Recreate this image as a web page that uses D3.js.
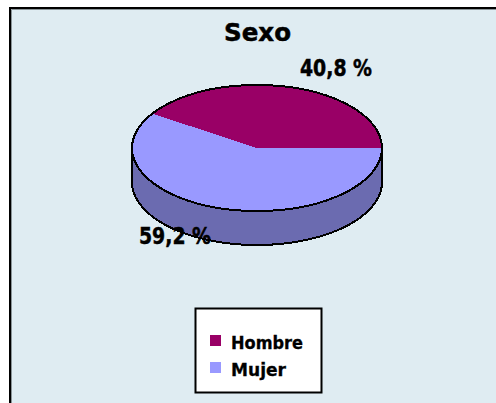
<!DOCTYPE html>
<html>
<head>
<meta charset="utf-8">
<script src="https://cdn.jsdelivr.net/npm/d3@7"></script>
<style>
	html, body { margin: 0; padding: 0; background: #fff; overflow: hidden; }
	svg { display: block; }
	text { font-family: "DejaVu Sans", sans-serif; font-weight: bold; fill: #000; stroke: #000; stroke-width: 0.5px; }
</style>
</head>
<body>
<div id="container"></div>
<script>
const categories = ["Hombre", "Mujer"];
const values = [40.8, 59.2];
const valueLabels = ["40,8 %", "59,2 %"];
const colors = ["#990066", "#9999ff"];
const sideColors = ["#660044", "#6b6bb0"];
const chartTitle = "Sexo";

const width = 496;
const height = 403;
const cx = 257;
const cy = 148;
const rx = 125;
const ry = 63;
const depth = 34;

const svg = d3.select("#container")
	.append("svg")
	.attr("width", width)
	.attr("height", height);

// panel with the dark frame on the top and left only
svg.append("rect")
	.attr("x", 10).attr("y", 8)
	.attr("width", width - 10).attr("height", height - 8)
	.attr("fill", "#dfecf2");
svg.append("path")
	.attr("d", d3.line()([[11.5, height], [11.5, 9.5], [width, 9.5]]))
	.attr("fill", "none")
	.attr("stroke", "#8a9498")
	.attr("stroke-width", 1);
svg.append("path")
	.attr("d", d3.line()([[10, height], [10, 8], [width, 8]]))
	.attr("fill", "none")
	.attr("stroke", "#000")
	.attr("stroke-width", 2);

svg.append("text")
	.attr("x", 224).attr("y", 41)
	.attr("font-size", 25)
	.attr("textLength", 67)
	.attr("lengthAdjust", "spacingAndGlyphs")
	.text(chartTitle);

// d3 angles, first slice ends at the right hand side of the ellipse
const total = d3.sum(values);
const start = Math.PI / 2 - (values[0] / total) * 2 * Math.PI;
const pie = d3.pie().sort(null).startAngle(start).endAngle(start + 2 * Math.PI);
const slices = pie(values);

const px = (a) => cx + rx * Math.sin(a);
const py = (a) => cy - ry * Math.cos(a);

// wall of the disc, only the front half (d3 angle 90 to 270 deg) can be seen
const chart = svg.append("g").attr("shape-rendering", "crispEdges");

slices.forEach((s, i) => {
	const a0 = Math.max(s.startAngle, Math.PI / 2);
	const a1 = Math.min(s.endAngle, 1.5 * Math.PI);
	if (a1 <= a0) return;
	const top = d3.range(a0, a1, 0.02).concat([a1]);
	const pts = top.map((a) => [px(a), py(a)])
		.concat(top.slice().reverse().map((a) => [px(a), py(a) + depth]));
	chart.append("path")
		.attr("d", d3.line()(pts) + "Z")
		.attr("fill", sideColors[i])
		.attr("stroke", "#000")
		.attr("stroke-width", 2);
});

// top of the disc
const arc = d3.arc().innerRadius(0).outerRadius(1);
const topGroup = chart.append("g")
	.attr("transform", `translate(${cx},${cy}) scale(${rx},${ry})`);
topGroup.selectAll("path")
	.data(slices)
	.enter()
	.append("path")
	.attr("d", arc)
	.attr("fill", (d, i) => colors[i]);
chart.append("ellipse")
	.attr("cx", cx).attr("cy", cy)
	.attr("rx", rx).attr("ry", ry)
	.attr("fill", "none")
	.attr("stroke", "#000")
	.attr("stroke-width", 2);

svg.selectAll(".value-label")
	.data(valueLabels)
	.enter()
	.append("text")
	.attr("class", "value-label")
	.attr("x", (d, i) => (i === 0 ? 300 : 139))
	.attr("y", (d, i) => (i === 0 ? 76 : 244))
	.attr("font-size", 23)
	.attr("textLength", 72)
	.attr("lengthAdjust", "spacingAndGlyphs")
	.text((d) => d);

// legend
const legend = svg.append("g");
legend.append("rect")
	.attr("x", 195.5).attr("y", 308.5)
	.attr("width", 126).attr("height", 84)
	.attr("fill", "#fff")
	.attr("stroke", "#000")
	.attr("stroke-width", 2);

const legendY = d3.scalePoint().domain(categories).range([341, 368]);
const legendWidths = [72, 55];

legend.selectAll("rect.swatch")
	.data(categories)
	.enter()
	.append("rect")
	.attr("class", "swatch")
	.attr("x", 210)
	.attr("y", (d) => legendY(d) - 6)
	.attr("width", 11)
	.attr("height", 11)
	.attr("fill", (d, i) => colors[i]);

legend.selectAll("text")
	.data(categories)
	.enter()
	.append("text")
	.attr("x", 231)
	.attr("y", (d) => legendY(d) + 8)
	.attr("font-size", 17)
	.attr("textLength", (d, i) => legendWidths[i])
	.attr("lengthAdjust", "spacingAndGlyphs")
	.style("stroke-width", "0.3px")
	.text((d) => d);
</script>
</body>
</html>
